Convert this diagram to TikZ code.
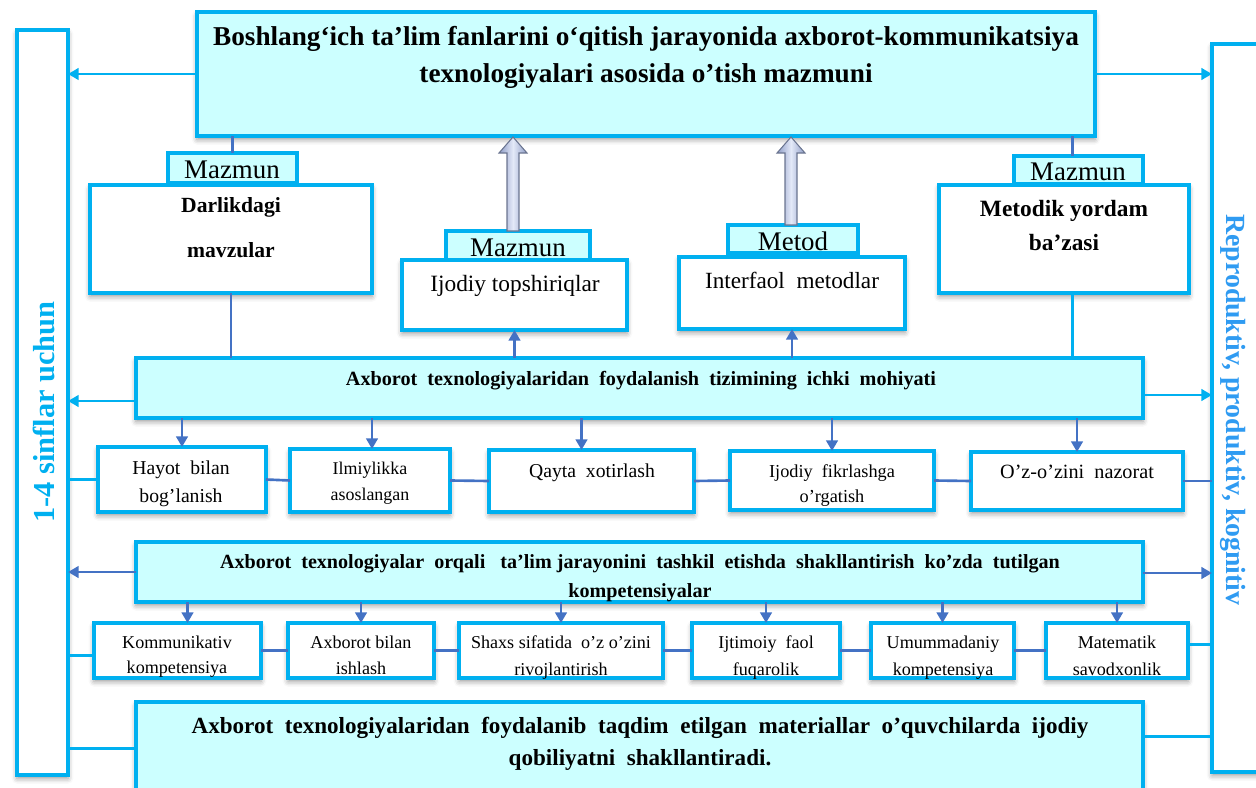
\documentclass[tikz,border=0pt]{standalone}
\usepackage{fontspec}
\setmainfont{Liberation Serif}
\usetikzlibrary{arrows.meta,calc,shadows.blur}

\definecolor{frameblue}{HTML}{00B0F0}
\definecolor{paleCyan}{HTML}{CCFFFF}
\definecolor{linkblue}{HTML}{4472C4}
\definecolor{sidetextL}{HTML}{00B0F0}
\definecolor{sidetextR}{HTML}{2F9BF2}
\definecolor{hollowA}{HTML}{8E9CC6}
\definecolor{hollowB}{HTML}{E3E9F8}
\definecolor{hollowEdge}{HTML}{6B7590}

% font size given in pt
\newcommand\fsz[1]{\fontsize{#1}{#1}\selectfont}

% rectangle node from its corners (pixel units): name, x1, y1, x2, y2, style
\newcommand\pbox[6]{%
  \pgfmathsetmacro\pbw{(#4-#2)*0.02}%
  \pgfmathsetmacro\pbh{(#5-#3)*0.02}%
  \node[#6, minimum width=\pbw cm, minimum height=\pbh cm] (#1) at ({(#2+#4)/2},{(#3+#5)/2}) {};}

\tikzset{
  shade box/.style={blur shadow={shadow xshift=0pt, shadow yshift=-2pt, shadow blur radius=3pt, shadow opacity=40}},
  box/.style={draw=frameblue, line width=2pt, inner sep=0pt, outer sep=0pt, shade box},
  cbox/.style={box, fill=paleCyan},
  wbox/.style={box, fill=white},
  tagbox/.style={draw=frameblue, line width=1.8pt, fill=paleCyan, inner sep=0pt, outer sep=0pt},
  sidebar/.style={box, fill=white},
  txt/.style={inner sep=0pt, anchor=base, text=black},
  link/.style={draw=linkblue, line width=1.5pt},
  blink/.style={draw=frameblue, line width=1.7pt},
  darr/.style={link, -{Triangle[length=6pt,width=6.5pt]}},
  barr/.style={blink, -{Triangle[length=6pt,width=6.5pt]}},
  hollow/.style={draw=hollowEdge, line width=0.6pt, left color=hollowA, right color=hollowA, middle color=hollowB},
}

\begin{document}
\begin{tikzpicture}[x=0.02cm, y=-0.02cm]
\useasboundingbox (0,0) rectangle (1256,787);

% side bars
\pbox{lbar}{17}{30}{68}{775}{sidebar}
\pbox{rbar}{1212}{44}{1290}{772}{sidebar}
\node[rotate=90, inner sep=0pt, text=sidetextL, font=\bfseries\fsz{17.3}] (ltext) at (44,412) {1-4 sinflar uchun};
\node[rotate=-90, inner sep=0pt, text=sidetextR, font=\bfseries\fsz{15.8}] (rtext) at (1233,410) {Reproduktiv, produktiv, kognitiv};

% title
\pbox{title}{197}{12}{1095}{136}{cbox}
\node[txt, font=\bfseries\fsz{15.5}] (tl1) at (646,46) {Boshlang‘ich ta’lim fanlarini o‘qitish jarayonida axborot-kommunikatsiya};
\node[txt, font=\bfseries\fsz{15.5}] (tl2) at (646,83) {texnologiyalari asosida o’tish mazmuni};

% upper row of boxes
\pbox{darl}{90}{185}{372}{293}{wbox}
\pbox{mz1}{168}{153}{297}{183}{tagbox}
\node[txt, font=\fsz{15.3}] (mz1t) at (232,178) {Mazmun};
\node[txt, font=\bfseries\fsz{12.3}] (darl1) at (231,213) {Darlikdagi};
\node[txt, font=\bfseries\fsz{12.3}] (darl2) at (231,257) {mavzular};

\pbox{ijod}{402}{260}{627}{330}{wbox}
\pbox{mz2}{446}{231}{590}{260}{tagbox}
\node[txt, font=\fsz{15.3}] (mz2t) at (518,256) {Mazmun};
\node[txt, font=\fsz{13.3}] (ijodt) at (515,291) {Ijodiy topshiriqlar};

\pbox{inter}{679}{257}{905}{329}{wbox}
\pbox{met}{728}{225}{858}{253}{tagbox}
\node[txt, font=\fsz{15.3}] (mett) at (793,250) {Metod};
\node[txt, font=\fsz{13.2}] (intert) at (792,288) {Interfaol\ \ metodlar};

\pbox{metod}{939}{185}{1189}{293}{wbox}
\pbox{mz3}{1014}{156}{1143}{184}{tagbox}
\node[txt, font=\fsz{15.3}] (mz3t) at (1078,180) {Mazmun};
\node[txt, font=\bfseries\fsz{13.3}] (metod1) at (1064,216) {Metodik yordam};
\node[txt, font=\bfseries\fsz{13.3}] (metod2) at (1064,250) {ba’zasi};

% first wide band
\pbox{ict}{136}{358}{1143}{418}{cbox}
\node[txt, font=\bfseries\fsz{11.5}] (ictt) at (641,385) {Axborot\ \ texnologiyalaridan\ \ foydalanish\ \ tizimining\ \ ichki\ \ mohiyati};

% principles
\pbox{hay}{98}{447}{266}{512}{wbox}
\node[txt, font=\fsz{11.2}] (hay1) at (181,474) {Hayot\ \ bilan};
\node[txt, font=\fsz{11.2}] (hay2) at (181,502) {bog’lanish};
\pbox{ilm}{290}{449}{450}{512}{wbox}
\node[txt, font=\fsz{10.2}] (ilm1) at (370,474) {Ilmiylikka};
\node[txt, font=\fsz{10.2}] (ilm2) at (370,500) {asoslangan};
\pbox{qay}{489}{450}{694}{512}{wbox}
\node[txt, font=\fsz{11.2}] (qayt) at (592,477) {Qayta\ \ xotirlash};
\pbox{fik}{730}{451}{934}{510}{wbox}
\node[txt, font=\fsz{10.4}] (fik1) at (832,477) {Ijodiy\ \ fikrlashga};
\node[txt, font=\fsz{10.4}] (fik2) at (832,502) {o’rgatish};
\pbox{oz}{971}{452}{1183}{510}{wbox}
\node[txt, font=\fsz{11.5}] (ozt) at (1077,478) {O’z-o’zini\ \ nazorat};

% second wide band
\pbox{ict2}{136}{542}{1143}{602}{cbox}
\node[txt, font=\bfseries\fsz{11.45}] (ict2a) at (640,568) {Axborot\ \ texnologiyalar\ \ orqali\ \ \ ta’lim jarayonini\ \ tashkil\ \ etishda\ \ shakllantirish\ \ ko’zda\ \ tutilgan};
\node[txt, font=\bfseries\fsz{11.45}] (ict2b) at (640,597) {kompetensiyalar};

% competences
\pbox{kom}{94}{623}{261}{678}{wbox}
\node[txt, font=\fsz{10.3}] (kom1) at (177,648) {Kommunikativ};
\node[txt, font=\fsz{10.3}] (kom2) at (177,673) {kompetensiya};
\pbox{axb}{288}{623}{434}{678}{wbox}
\node[txt, font=\fsz{10.3}] (axb1) at (361,648) {Axborot bilan};
\node[txt, font=\fsz{10.3}] (axb2) at (361,674) {ishlash};
\pbox{shx}{459}{623}{663}{678}{wbox}
\node[txt, font=\fsz{10.3}] (shx1) at (561,648) {Shaxs sifatida\ \ o’z o’zini};
\node[txt, font=\fsz{10.3}] (shx2) at (561,675) {rivojlantirish};
\pbox{ijt}{692}{623}{840}{678}{wbox}
\node[txt, font=\fsz{10.3}] (ijt1) at (766,648) {Ijtimoiy\ \ faol};
\node[txt, font=\fsz{10.3}] (ijt2) at (766,675) {fuqarolik};
\pbox{umm}{871}{623}{1014}{678}{wbox}
\node[txt, font=\fsz{10.3}] (umm1) at (943,648) {Umummadaniy};
\node[txt, font=\fsz{10.3}] (umm2) at (943,675) {kompetensiya};
\pbox{mat}{1046}{623}{1188}{678}{wbox}
\node[txt, font=\fsz{10.3}] (mat1) at (1117,648) {Matematik};
\node[txt, font=\fsz{10.3}] (mat2) at (1117,675) {savodxonlik};

% closing band
\pbox{fin}{136}{702}{1143}{810}{cbox}
\node[txt, font=\bfseries\fsz{13.15}] (fin1) at (640,733) {Axborot\ \ texnologiyalaridan\ \ foydalanib\ \ taqdim\ \ etilgan\ \ materiallar\ \ o’quvchilarda\ \ ijodiy};
\node[txt, font=\bfseries\fsz{13.15}] (fin2) at (640,765) {qobiliyatni\ \ shakllantiradi.};

% arrows out to the side bars
\draw[barr] (title.west) -- (title.west -| lbar.east);
\draw[barr] (title.east) -- (title.east -| rbar.west);
\draw[barr] ($(ict.west)+(0,13)$) -- ($(ict.west -| lbar.east)+(0,13)$);
\draw[barr] ($(ict.east)+(0,7)$) -- ($(ict.east -| rbar.west)+(0,7)$);
\draw[darr] (ict2.west) -- (ict2.west -| lbar.east);
\draw[darr] ($(ict2.east)+(0,1)$) -- ($(ict2.east -| rbar.west)+(0,1)$);

% title to the tags
\draw[link] (mz1.north) -- (mz1.north |- title.south);
\draw[link] ($(mz3.north)+(-6,0)$) -- ($(mz3.north |- title.south)+(-6,0)$);
\draw[link] (darl.south) -- (darl.south |- ict.north);
\draw[blink] ($(metod.south)+(8,0)$) -- ($(metod.south |- ict.north)+(8,0)$);

% band to the two middle boxes
\draw[darr] (ijod.south |- ict.north) -- (ijod.south);
\draw[darr] (inter.south |- ict.north) -- (inter.south);

% hollow arrows up to the title
\coordinate (hb1) at ($(mz2.north)+(-5,0)$);
\coordinate (ht1) at (hb1 |- title.south);
\coordinate (hb2) at ($(met.north)+(-2,0)$);
\coordinate (ht2) at (hb2 |- title.south);
\foreach \b/\t in {hb1/ht1, hb2/ht2}{
  \path[hollow] ($(\b)+(-6,0)$) -- ($(\t)+(-6,17)$) -- ($(\t)+(-14,17)$) -- ($(\t)+(0,1)$)
     -- ($(\t)+(14,17)$) -- ($(\t)+(6,17)$) -- ($(\b)+(6,0)$) -- cycle;
}

% band to principles
\draw[darr] (hay.north |- ict.south) -- (hay.north);
\draw[darr] ($(ilm.north |- ict.south)+(2,0)$) -- ($(ilm.north)+(2,0)$);
\draw[darr] ($(qay.north |- ict.south)+(-10,0)$) -- ($(qay.north)+(-10,0)$);
\draw[darr] (fik.north |- ict.south) -- (fik.north);
\draw[darr] (oz.north |- ict.south) -- (oz.north);

% principles chained
\draw[blink] (hay.west) -- (hay.west -| lbar.east);
\draw[link] (hay.east) -- (ilm.west);
\draw[link] (ilm.east) -- (qay.west);
\draw[link] (qay.east) -- (fik.west);
\draw[link] (fik.east) -- (oz.west);
\draw[link] (oz.east) -- (oz.east -| rbar.west);

% band to competences
\draw[darr] ($(kom.north |- ict2.south)+(10,0)$) -- ($(kom.north)+(10,0)$);
\draw[darr] (axb.north |- ict2.south) -- (axb.north);
\draw[darr] (shx.north |- ict2.south) -- (shx.north);
\draw[darr] (ijt.north |- ict2.south) -- (ijt.north);
\draw[darr] (umm.north |- ict2.south) -- (umm.north);
\draw[darr] (mat.north |- ict2.south) -- (mat.north);

% competences chained
\draw[blink] ($(kom.west)+(0,5)$) -- ($(kom.west -| lbar.east)+(0,5)$);
\draw[link] (kom.east) -- (axb.west);
\draw[link] (axb.east) -- (shx.west);
\draw[link] (shx.east) -- (ijt.west);
\draw[link] (ijt.east) -- (umm.west);
\draw[link] (umm.east) -- (mat.west);
\draw[blink] ($(mat.east)+(0,-6)$) -- ($(mat.east -| rbar.west)+(0,-6)$);

% closing band to the side bars
\draw[blink] ($(fin.west)+(0,-8)$) -- ($(fin.west -| lbar.east)+(0,-8)$);
\draw[blink] ($(fin.east)+(0,-20)$) -- ($(fin.east -| rbar.west)+(0,-20)$);
\end{tikzpicture}
\end{document}
